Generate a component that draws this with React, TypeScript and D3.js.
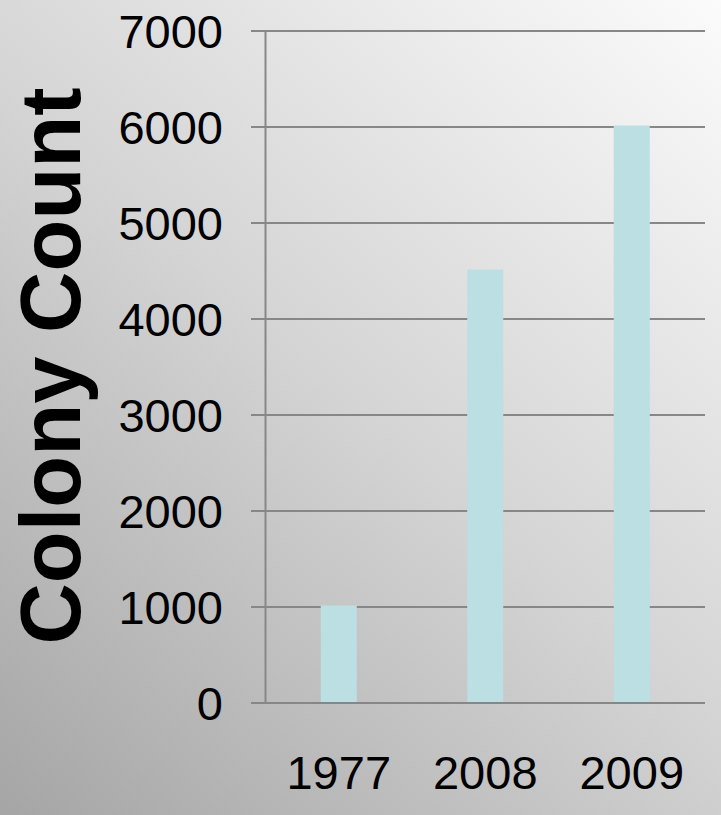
import React, { useEffect, useRef } from 'react';
import * as d3 from 'd3';

const years = ['1977', '2008', '2009'];
const colonyCounts = [1000, 4500, 6000];
const yTicks = [0, 1000, 2000, 3000, 4000, 5000, 6000, 7000];

const W = 721;
const H = 815;

const App = () => {
  const svgRef = useRef(null);

  useEffect(() => {
    const svg = d3.select(svgRef.current);
    svg.selectAll('*').remove();

    const left = 265.5;
    const right = 705;
    const top = 31;
    const bottom = 703;

    // background gradient, dark bottom-left to light top-right
    const defs = svg.append('defs');
    const grad = defs.append('linearGradient')
      .attr('id', 'bg')
      .attr('gradientUnits', 'userSpaceOnUse')
      .attr('x1', 0).attr('y1', H)
      .attr('x2', W).attr('y2', 0);
    grad.append('stop').attr('offset', '0%').attr('stop-color', '#a5a5a5');
    grad.append('stop').attr('offset', '50%').attr('stop-color', '#d4d4d4');
    grad.append('stop').attr('offset', '100%').attr('stop-color', '#fbfbfb');

    svg.append('rect')
      .attr('width', W)
      .attr('height', H)
      .attr('fill', 'url(#bg)');

    const x = d3.scaleBand()
      .domain(years)
      .range([left, right])
      .paddingInner(0.754)
      .paddingOuter(0.377);

    const y = d3.scaleLinear()
      .domain([0, 7000])
      .range([bottom, top]);

    // gridlines with outside ticks
    svg.append('g')
      .selectAll('line')
      .data(yTicks)
      .enter().append('line')
      .attr('x1', 251)
      .attr('x2', right)
      .attr('y1', d => y(d))
      .attr('y2', d => y(d))
      .attr('stroke', '#878787')
      .attr('stroke-width', 2);

    // bars
    svg.append('g')
      .selectAll('rect')
      .data(colonyCounts)
      .enter().append('rect')
      .attr('x', (d, i) => x(years[i]))
      .attr('width', x.bandwidth())
      .attr('y', d => y(d) - 1.5)
      .attr('height', d => bottom - y(d) + 0.5)
      .attr('fill', '#bbdfe2');

    // y axis line
    svg.append('line')
      .attr('x1', left).attr('x2', left)
      .attr('y1', top).attr('y2', bottom)
      .attr('stroke', '#878787')
      .attr('stroke-width', 2);

    svg.append('line')
      .attr('x1', 251).attr('x2', right)
      .attr('y1', bottom).attr('y2', bottom)
      .attr('stroke', '#878787')
      .attr('stroke-width', 2);

    // y tick labels
    svg.append('g')
      .attr('font-family', 'Liberation Sans, Arial, sans-serif')
      .attr('font-size', 47)
      .attr('text-anchor', 'end')
      .attr('fill', '#000')
      .selectAll('text')
      .data(yTicks)
      .enter().append('text')
      .attr('x', 223)
      .attr('y', d => y(d) + 17)
      .text(d => d);

    // x labels
    svg.append('g')
      .attr('font-family', 'Liberation Sans, Arial, sans-serif')
      .attr('font-size', 47)
      .attr('text-anchor', 'middle')
      .attr('fill', '#000')
      .selectAll('text')
      .data(years)
      .enter().append('text')
      .attr('x', d => x(d) + x.bandwidth() / 2)
      .attr('y', 789)
      .text(d => d);

    // y axis title
    svg.append('text')
      .attr('transform', `translate(80,${(89 + 643) / 2}) rotate(-90)`)
      .attr('text-anchor', 'middle')
      .attr('font-family', 'Liberation Sans, Arial, sans-serif')
      .attr('font-weight', 'bold')
      .attr('font-size', 85)
      .attr('fill', '#000')
      .text('Colony Count');
  }, []);

  return (
    <svg
      ref={svgRef}
      width={W}
      height={H}
      style={{ position: 'absolute', left: 0, top: 0, display: 'block' }}
    />
  );
};

export default App;
